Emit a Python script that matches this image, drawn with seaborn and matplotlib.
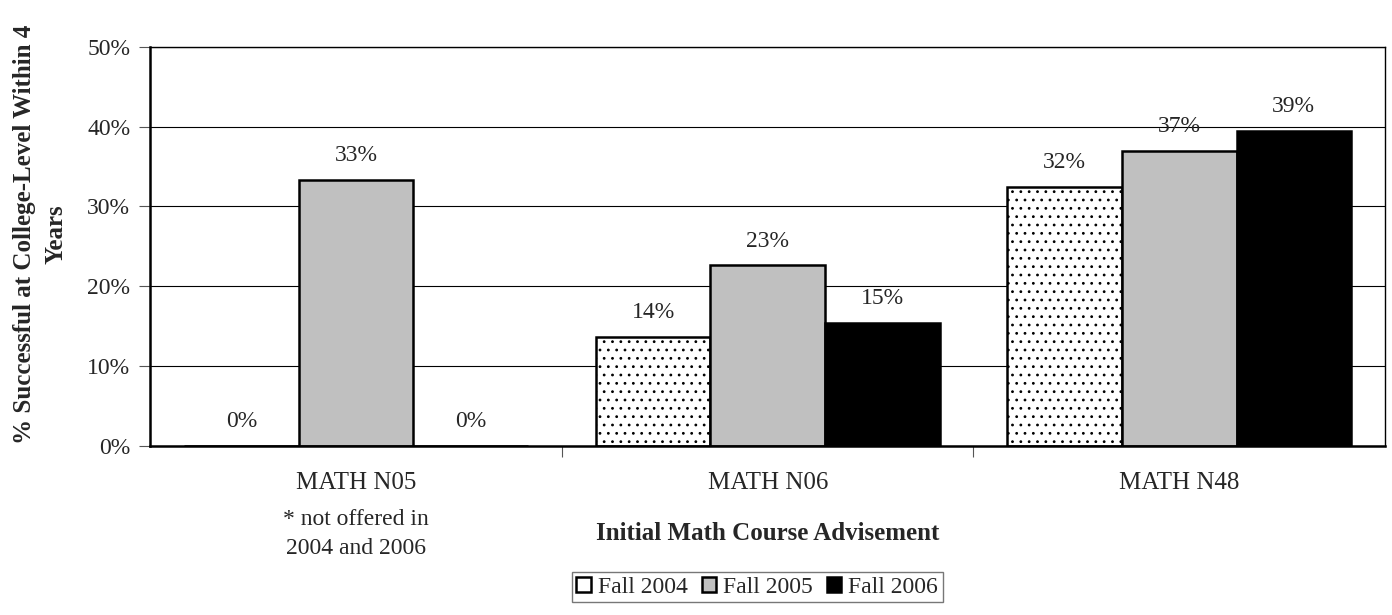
import matplotlib
matplotlib.use("Agg")
import matplotlib.pyplot as plt
import seaborn as sns
import pandas as pd
from matplotlib.ticker import PercentFormatter, FixedLocator

# data
courses = ["MATH N05", "MATH N06", "MATH N48"]
terms = ["Fall 2004", "Fall 2005", "Fall 2006"]
fall_2004 = [0.0, 13.6, 32.4]
fall_2005 = [33.3, 22.6, 37.0]
fall_2006 = [0.0, 15.4, 39.4]
bar_labels = [["0%", "14%", "32%"], ["33%", "23%", "37%"], ["0%", "15%", "39%"]]

df = pd.DataFrame({
    "course": courses * 3,
    "term": [t for t in terms for _ in courses],
    "value": fall_2004 + fall_2005 + fall_2006,
})

sns.set_theme(style="white")
plt.rcParams["font.family"] = ["Liberation Serif", "DejaVu Serif"]
plt.rcParams["hatch.color"] = "#555555"
plt.rcParams["hatch.linewidth"] = 0.8

fig, ax = plt.subplots(figsize=(13.92, 6.15), dpi=100)
fig.subplots_adjust(left=0.108, right=0.995, top=0.924, bottom=0.275)

palette = {"Fall 2004": "white", "Fall 2005": "#c0c0c0", "Fall 2006": "black"}
sns.barplot(data=df, x="course", y="value", hue="term", hue_order=terms,
            palette=palette, width=0.835, edgecolor="black", linewidth=1.8,
            ax=ax, legend=True, saturation=1)

# dotted fill for Fall 2004
for patch in ax.containers[0]:
    patch.set_hatch("..")

for cont, labs in zip(ax.containers, bar_labels):
    ax.bar_label(cont, labels=labs, padding=10, fontsize=17)

ax.set_ylim(0, 50)
ax.set_xlim(-0.5, 2.5)
ax.yaxis.set_major_locator(FixedLocator([0, 10, 20, 30, 40, 50]))
ax.yaxis.set_major_formatter(PercentFormatter(decimals=0))
ax.grid(axis="y", color="black", linewidth=0.8)
ax.set_axisbelow(True)
for s in ax.spines.values():
    s.set_color("black")
    s.set_linewidth(1.0)
ax.spines["left"].set_linewidth(1.8)
ax.spines["bottom"].set_linewidth(1.8)

ax.tick_params(axis="y", which="major", length=8, width=0.8, color="#555555",
               labelsize=17, pad=6.5, left=True)
ax.tick_params(axis="x", which="major", length=0, labelsize=18, pad=19)
ax.set_xticks([0.5, 1.5], minor=True)
ax.tick_params(axis="x", which="minor", length=8, width=0.8, color="#555555",
               bottom=True, direction="out")

ax.set_xlabel("Initial Math Course Advisement", fontsize=18, fontweight="bold",
              va="center")
ax.xaxis.set_label_coords(0.5, -0.22)
ax.set_ylabel("% Successful at College-Level Within 4\nYears", fontsize=18,
              fontweight="bold", linespacing=1.45, va="center")
ax.yaxis.set_label_coords(-0.089, 0.53)

ax.text(0, -0.2215, "* not offered in\n2004 and 2006", transform=ax.get_xaxis_transform(),
        ha="center", va="center", fontsize=17, linespacing=1.5)

handles, labels = ax.get_legend_handles_labels()
ax.legend(handles, labels, loc="upper center", bbox_to_anchor=(0.4915, -0.316),
          ncol=3, fontsize=17, frameon=True, fancybox=False, edgecolor="#555555",
          handlelength=0.6, handleheight=0.6, handletextpad=0.3,
          columnspacing=0.6, borderpad=0.2, borderaxespad=0)

fig.savefig("out.png", dpi=100)
